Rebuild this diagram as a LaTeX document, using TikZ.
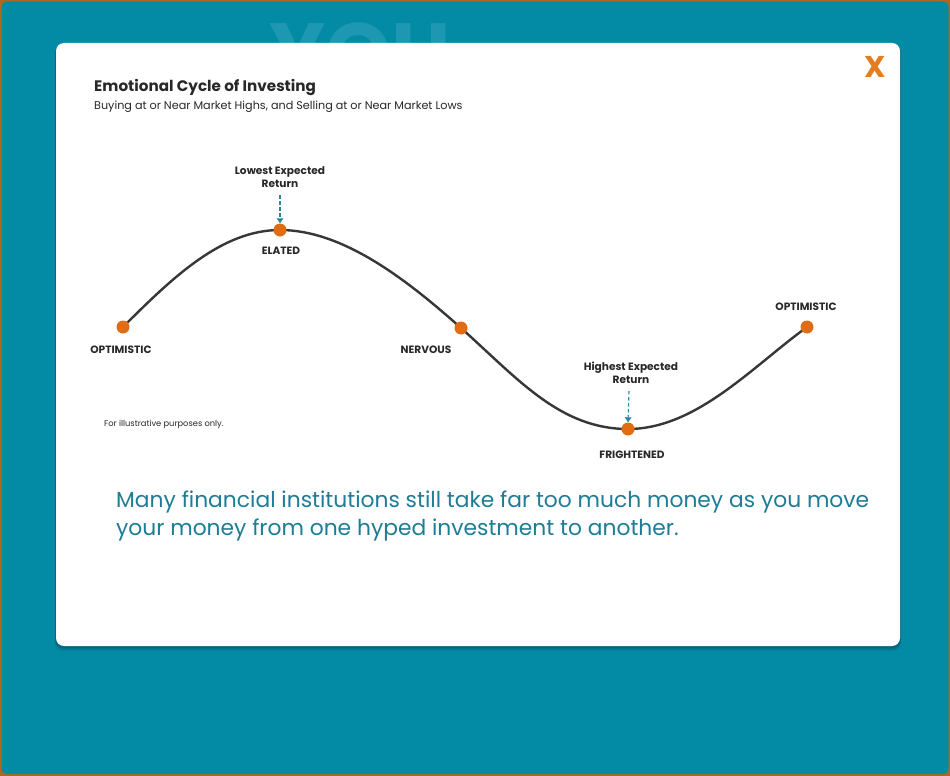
\documentclass[tikz,border=0pt]{standalone}
\usepackage{fontspec}
\setmainfont{Poppins}
\usetikzlibrary{arrows.meta}
\definecolor{bgteal}{RGB}{3,139,166}
\definecolor{youteal}{RGB}{30,152,178}
\definecolor{edgebrown}{RGB}{170,105,35}
\definecolor{shadowteal}{RGB}{10,80,100}
\definecolor{curvegray}{RGB}{55,55,55}
\definecolor{dotorange}{RGB}{226,108,18}
\definecolor{xorange}{RGB}{228,124,32}
\definecolor{arrowteal}{RGB}{40,135,155}
\definecolor{msgteal}{RGB}{30,125,150}
\definecolor{textgray}{RGB}{40,40,40}
\tikzset{
  dot/.style={circle,fill=dotorange,inner sep=0pt,minimum size=13pt},
  stagelabel/.style={font=\bfseries\fontsize{10.6}{11}\selectfont,text=textgray,inner sep=0pt},
  notelabel/.style={font=\bfseries\fontsize{10.6}{13.5}\selectfont,text=textgray,align=center,inner sep=0pt},
  pointer/.style={arrowteal,line width=1.1pt,dash pattern=on 3.5pt off 2.5pt,-{Triangle[length=5pt,width=6.5pt]}},
  wave/.style={curvegray,line width=2.4pt}
}
\begin{document}
\begin{tikzpicture}[x=1pt,y=-1pt]
\useasboundingbox (0,0) rectangle (950,776);
% outer frame
\fill[edgebrown] (0,0) rectangle (950,776);
\fill[bgteal,rounded corners=5pt] (1.5,1.5) rectangle (948.5,774);
% faint background word
\node[font=\bfseries\fontsize{84}{84}\selectfont,text=youteal,anchor=north,inner sep=0pt] (you) at (360,22) {YOU};
% panel shadow
\foreach \d/\o in {5/0.10,4/0.15,3/0.22,2/0.3}{
  \fill[shadowteal,opacity=\o,rounded corners=8pt] (56-\d*0.3,43+\d*0.6) rectangle (900+\d*0.3,646+\d);
}
% panel
\fill[white,rounded corners=8pt] (56,43) rectangle (900,646);
% close mark
\node[font=\bfseries\fontsize{30}{30}\selectfont,text=xorange,inner sep=0pt] (close) at (875,67) {X};
% titles
\node[anchor=base west,font=\bfseries\fontsize{15.2}{15}\selectfont,text=textgray,inner sep=0pt] (title) at (94,91) {Emotional Cycle of Investing};
\node[anchor=base west,font=\fontsize{11.2}{12}\selectfont,text=textgray,inner sep=0pt] (subtitle) at (94,109) {Buying at or Near Market Highs, and Selling at or Near Market Lows};
% wave points
\coordinate (p1) at (123,327);
\coordinate (p2) at (280,230);
\coordinate (p3) at (461,328);
\coordinate (p4) at (628,429);
\coordinate (p5) at (807,327);
\draw[wave] (p1) .. controls (173,277) and (222,230) .. (p2)
  .. controls (342,230) and (405,278) .. (p3)
  .. controls (518,379) and (560,429) .. (p4)
  .. controls (696,429) and (752,367) .. (p5);
\node[dot] (o1) at (p1) {};
\node[dot] (el) at (p2) {};
\node[dot] (nv) at (p3) {};
\node[dot] (fr) at (p4) {};
\node[dot] (o2) at (p5) {};
% stage labels
\node[stagelabel] (lo1) at (121,350) {OPTIMISTIC};
\node[stagelabel] (lel) at (281,251) {ELATED};
\node[stagelabel] (lnv) at (426,350) {NERVOUS};
\node[stagelabel] (lfr) at (632,455) {FRIGHTENED};
\node[stagelabel] (lo2) at (806,307) {OPTIMISTIC};
% expected return notes
\node[notelabel] (low) at (280,177) {Lowest Expected\\Return};
\node[notelabel] (high) at (631,373) {Highest Expected\\Return};
\draw[pointer] (280,195) -- (el.north);
\draw[pointer] (629,391) -- (fr.north);
% note
\node[anchor=base west,font=\fontsize{8.3}{9}\selectfont,text=textgray,inner sep=0pt] (illus) at (104,426) {For illustrative purposes only.};
% message
\node[anchor=north west,align=left,font=\fontsize{21.8}{28}\selectfont,text=msgteal,inner sep=0pt] (msg) at (116,491) {Many financial institutions still take far too much money as you move\\your money from one hyped investment to another.};
\end{tikzpicture}
\end{document}
